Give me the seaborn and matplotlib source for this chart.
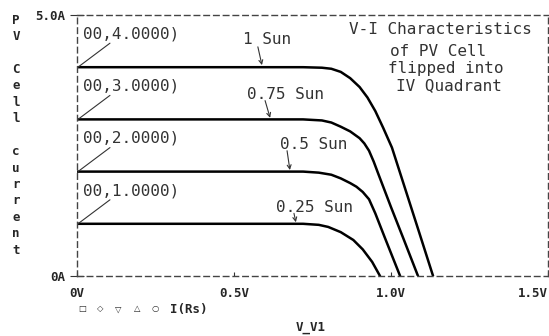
import matplotlib
matplotlib.use('Agg')
import matplotlib.pyplot as plt
import seaborn as sns
import pandas as pd

# V-I curves of the PV cell (volts, amps)
v_025 = [0.0, 0.72, 0.77, 0.80, 0.84, 0.88, 0.91, 0.94, 0.965]
i_025 = [1.0, 1.0, 0.98, 0.94, 0.84, 0.69, 0.51, 0.27, 0.0]
v_050 = [0.0, 0.72, 0.77, 0.81, 0.84, 0.87, 0.89, 0.91, 0.93, 0.95, 0.98, 1.029]
i_050 = [2.0, 2.0, 1.98, 1.94, 1.87, 1.78, 1.71, 1.61, 1.47, 1.20, 0.74, 0.0]
v_075 = [0.0, 0.72, 0.78, 0.81, 0.84, 0.87, 0.90, 0.915, 0.93, 0.945, 0.96, 1.00, 1.04, 1.086]
i_075 = [3.0, 3.0, 2.98, 2.94, 2.86, 2.77, 2.64, 2.54, 2.40, 2.19, 1.95, 1.32, 0.71, 0.0]
v_100 = [0.0, 0.72, 0.78, 0.81, 0.84, 0.87, 0.90, 0.925, 0.95, 0.975, 1.003, 1.05, 1.09, 1.134]
i_100 = [4.0, 4.0, 3.99, 3.97, 3.91, 3.79, 3.62, 3.42, 3.16, 2.84, 2.46, 1.58, 0.83, 0.0]

sun_labels = ['0.25 Sun', '0.5 Sun', '0.75 Sun', '1 Sun']
isc_labels = ['00,1.0000)', '00,2.0000)', '00,3.0000)', '00,4.0000)']
x_ticks = [0.0, 0.5, 1.0, 1.5]
x_labels = ['0V', '0.5V', '1.0V', '1.5V']
y_ticks = [0.0, 5.0]
y_labels = ['0A', '5.0A']

curves = [(v_025, i_025), (v_050, i_050), (v_075, i_075), (v_100, i_100)]
rows = []
for name, (vs, cs) in zip(sun_labels, curves):
    for v, c in zip(vs, cs):
        rows.append({'V': v, 'I': c, 'sun': name})
df = pd.DataFrame(rows)

sns.set_style('white')
plt.rcParams['font.family'] = ['DejaVu Sans Mono', 'DejaVu Sans']

W, H = 549, 336
fig = plt.figure(figsize=(W / 100, H / 100), dpi=100)
ax = fig.add_axes([77 / W, 1 - 276 / H, 471 / W, 261 / H])

sns.lineplot(data=df, x='V', y='I', hue='sun', palette=['black'] * 4,
             estimator=None, sort=False, legend=False, lw=1.8, ax=ax)

ax.set_xlim(0, 1.5)
ax.set_ylim(0, 5.0)
ax.set_xlabel('')
ax.set_ylabel('')

# dashed frame like the PSpice probe window
for sp in ax.spines.values():
    sp.set_visible(True)
    sp.set_linestyle((0, (4, 3)))
    sp.set_color('#444444')
    sp.set_linewidth(1.0)

tick_font = dict(fontfamily='DejaVu Sans Mono', fontweight='bold', fontsize=9)
ax.set_xticks(x_ticks)
ax.set_xticklabels(x_labels, **tick_font)
ax.set_yticks(y_ticks)
ax.set_yticklabels(y_labels, **tick_font)
ax.get_xticklabels()[-1].set_horizontalalignment('right')
ax.tick_params(axis='x', direction='in', length=3, width=0.8, color='#333333', pad=8, bottom=True)
ax.tick_params(axis='y', direction='inout', length=10, width=0.8, color='#333333', pad=3.5, left=True)

thin = dict(fontfamily='DejaVu Sans Mono', fontsize=11.5, color='#333333')

# short-circuit current markers with leader lines
for lab, (vs, cs) in zip(isc_labels, curves):
    y0 = cs[0]
    ax.text(0.02, y0 + 0.55, lab, ha='left', va='baseline', **thin)
    ax.plot([0.003, 0.105], [y0, y0 + 0.46], color='#333333', lw=0.8)

# irradiance labels with arrows
sun_text = [(0.634, 1.22), (0.646, 2.44), (0.541, 3.40), (0.529, 4.45)]
sun_arrow = [((0.691, 1.20), (0.697, 1.03)), ((0.669, 2.40), (0.678, 2.03)),
             ((0.599, 3.36), (0.615, 3.03)), ((0.576, 4.39), (0.589, 4.04))]
for lab, (tx, ty), (a0, a1) in zip(sun_labels, sun_text, sun_arrow):
    ax.text(tx, ty, lab, ha='left', va='baseline', **thin)
    ax.annotate('', xy=a1, xytext=a0,
                arrowprops=dict(arrowstyle='->', lw=0.8, color='#333333',
                                shrinkA=0, shrinkB=0, mutation_scale=7))

# title block inside the plot
title_lines = [('V-I Characteristics', 1.159, 4.64), ('of PV Cell', 1.150, 4.22),
               ('flipped into', 1.175, 3.89), ('IV Quadrant', 1.185, 3.57)]
for txt, tx, ty in title_lines:
    ax.text(tx, ty, txt, ha='center', va='baseline', **thin)

# stacked y axis title
letters = ['P', 'V', '', 'C', 'e', 'l', 'l', '', 'c', 'u', 'r', 'r', 'e', 'n', 't']
for k, ch in enumerate(letters):
    if ch:
        fig.text(16 / W, 1 - (20 + 16.45 * k) / H, ch, ha='center', va='center',
                 fontfamily='DejaVu Sans Mono', fontweight='bold', fontsize=9)

# legend row and x axis title
sym_x = [82, 100, 118, 137, 155]
for sx, s in zip(sym_x, ['□', '◇', '▽', '△', '○']):
    fig.text(sx / W, 1 - 309 / H, s, ha='center', va='center',
             fontfamily='DejaVu Sans', fontsize=6)
fig.text(170 / W, 1 - 309 / H, 'I(Rs)', ha='left', va='center',
         fontfamily='DejaVu Sans Mono', fontweight='bold', fontsize=9)
fig.text(311 / W, 1 - 327 / H, 'V_V1', ha='center', va='center',
         fontfamily='DejaVu Sans Mono', fontweight='bold', fontsize=9)

fig.savefig('out.png', dpi=100)
